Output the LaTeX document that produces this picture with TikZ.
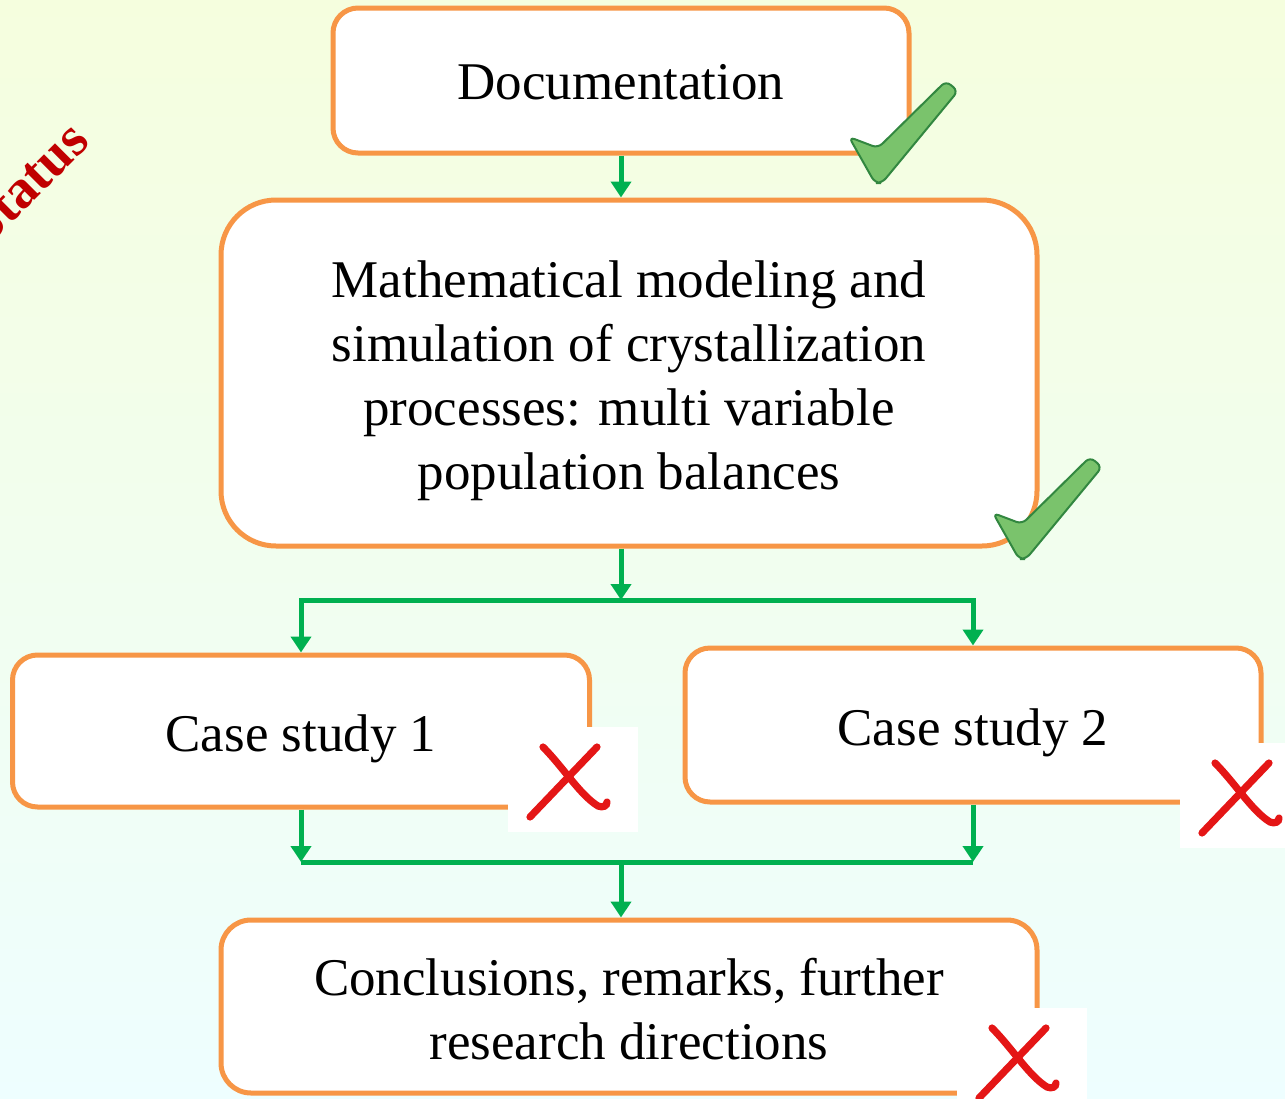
\documentclass[tikz,border=0pt]{standalone}
\usepackage{fontspec}
\setmainfont{Liberation Serif}
\usetikzlibrary{arrows.meta}

\definecolor{boxorange}{RGB}{247,150,70}
\definecolor{flowgreen}{RGB}{0,176,80}
\definecolor{tickfill}{RGB}{122,195,108}
\definecolor{tickdraw}{RGB}{50,135,64}
\definecolor{crossred}{RGB}{228,22,22}
\definecolor{statusred}{RGB}{192,0,0}
\definecolor{bgtop}{RGB}{245,254,222}
\definecolor{bgmid}{RGB}{251,255,247}
\definecolor{bgbottom}{RGB}{238,254,255}

\tikzset{
  pics/checkmark/.style={code={
    \draw[fill=tickfill,draw=tickdraw,line width=1pt,rounded corners=3pt]
      (0,0) -- (29,11) -- (97,-56) -- (109,-46) -- (33,46) -- (26,46) -- cycle;
  }},
  pics/crossmark/.style={code={
    \fill[white] (0,0) rectangle (130,105);
    \draw[crossred,line width=3.6pt,line cap=round] (22,90) -- (89,20);
    \draw[crossred,line width=3.6pt,line cap=round]
      (35,20) .. controls (55,40) and (72,68) .. (90,79) .. controls (95,81) and (99,79) .. (99,75);
  }}
}

\begin{document}
\begin{tikzpicture}[x=0.5pt,y=-0.5pt,
    box/.style={draw=boxorange,line width=2.5pt,fill=white,align=center,
      inner sep=0pt,font=\fontsize{26.5}{32}\selectfont},
    flow/.style={draw=flowgreen,line width=2.5pt},
    arr/.style={flow,-{Triangle[width=10pt,length=8pt]}}]

    \shade[top color=bgtop,middle color=bgmid,bottom color=bgbottom] (0,0) rectangle (1285,1098);
    \useasboundingbox (0,0) rectangle (1285,1098);

    \node[text=statusred,font=\fontsize{27.5}{33}\selectfont\bfseries,rotate=45,
        anchor=base east,inner sep=0pt] (status) at (92,143) {Status};

    \node[box,minimum width=288pt,minimum height=72.5pt,rounded corners=12.5pt,
        text height=19.5pt] (doc) at (621,80.5) {Documentation};
    \node[box,minimum width=408pt,minimum height=173pt,rounded corners=27.5pt] (model)
        at (629,373) {\rule{0pt}{26pt}Mathematical modeling and\\simulation of crystallization\\processes: multi variable\\population balances};
    \node[box,minimum width=288.5pt,minimum height=76pt,rounded corners=12.5pt,
        text height=20pt,text depth=0pt] (case1) at (301,731) {Case study 1};
    \node[box,minimum width=288pt,minimum height=77pt,rounded corners=12.5pt,
        text height=20pt,text depth=0pt] (case2) at (973,725) {Case study 2};
    \node[box,minimum width=408pt,minimum height=86.5pt,rounded corners=15pt] (concl)
        at (629,1006.5) {\rule{0pt}{21pt}Conclusions, remarks, further\\research directions};

    \coordinate (split) at (621,600);
    \coordinate (merge) at (621,862);

    \draw[arr] (doc.south) -- (doc.south |- model.north);
    \draw[arr] (doc.south |- model.south) -- (split);
    \draw[arr] (split) -| (case1.north);
    \draw[arr] (split) -| (case2.north);
    \draw[arr] (case1.south) -- (case1.south |- merge);
    \draw[arr] (case2.south) -- (case2.south |- merge);
    \draw[flow] (case1.south |- merge) -- (case2.south |- merge);
    \draw[arr] (merge) -- (merge |- concl.north);

    \pic at (849,137) {checkmark};
    \pic at (993,513) {checkmark};
    \pic at (508,727) {crossmark};
    \pic at (1180,743) {crossmark};
    \pic at (957,1008) {crossmark};
\end{tikzpicture}
\end{document}
